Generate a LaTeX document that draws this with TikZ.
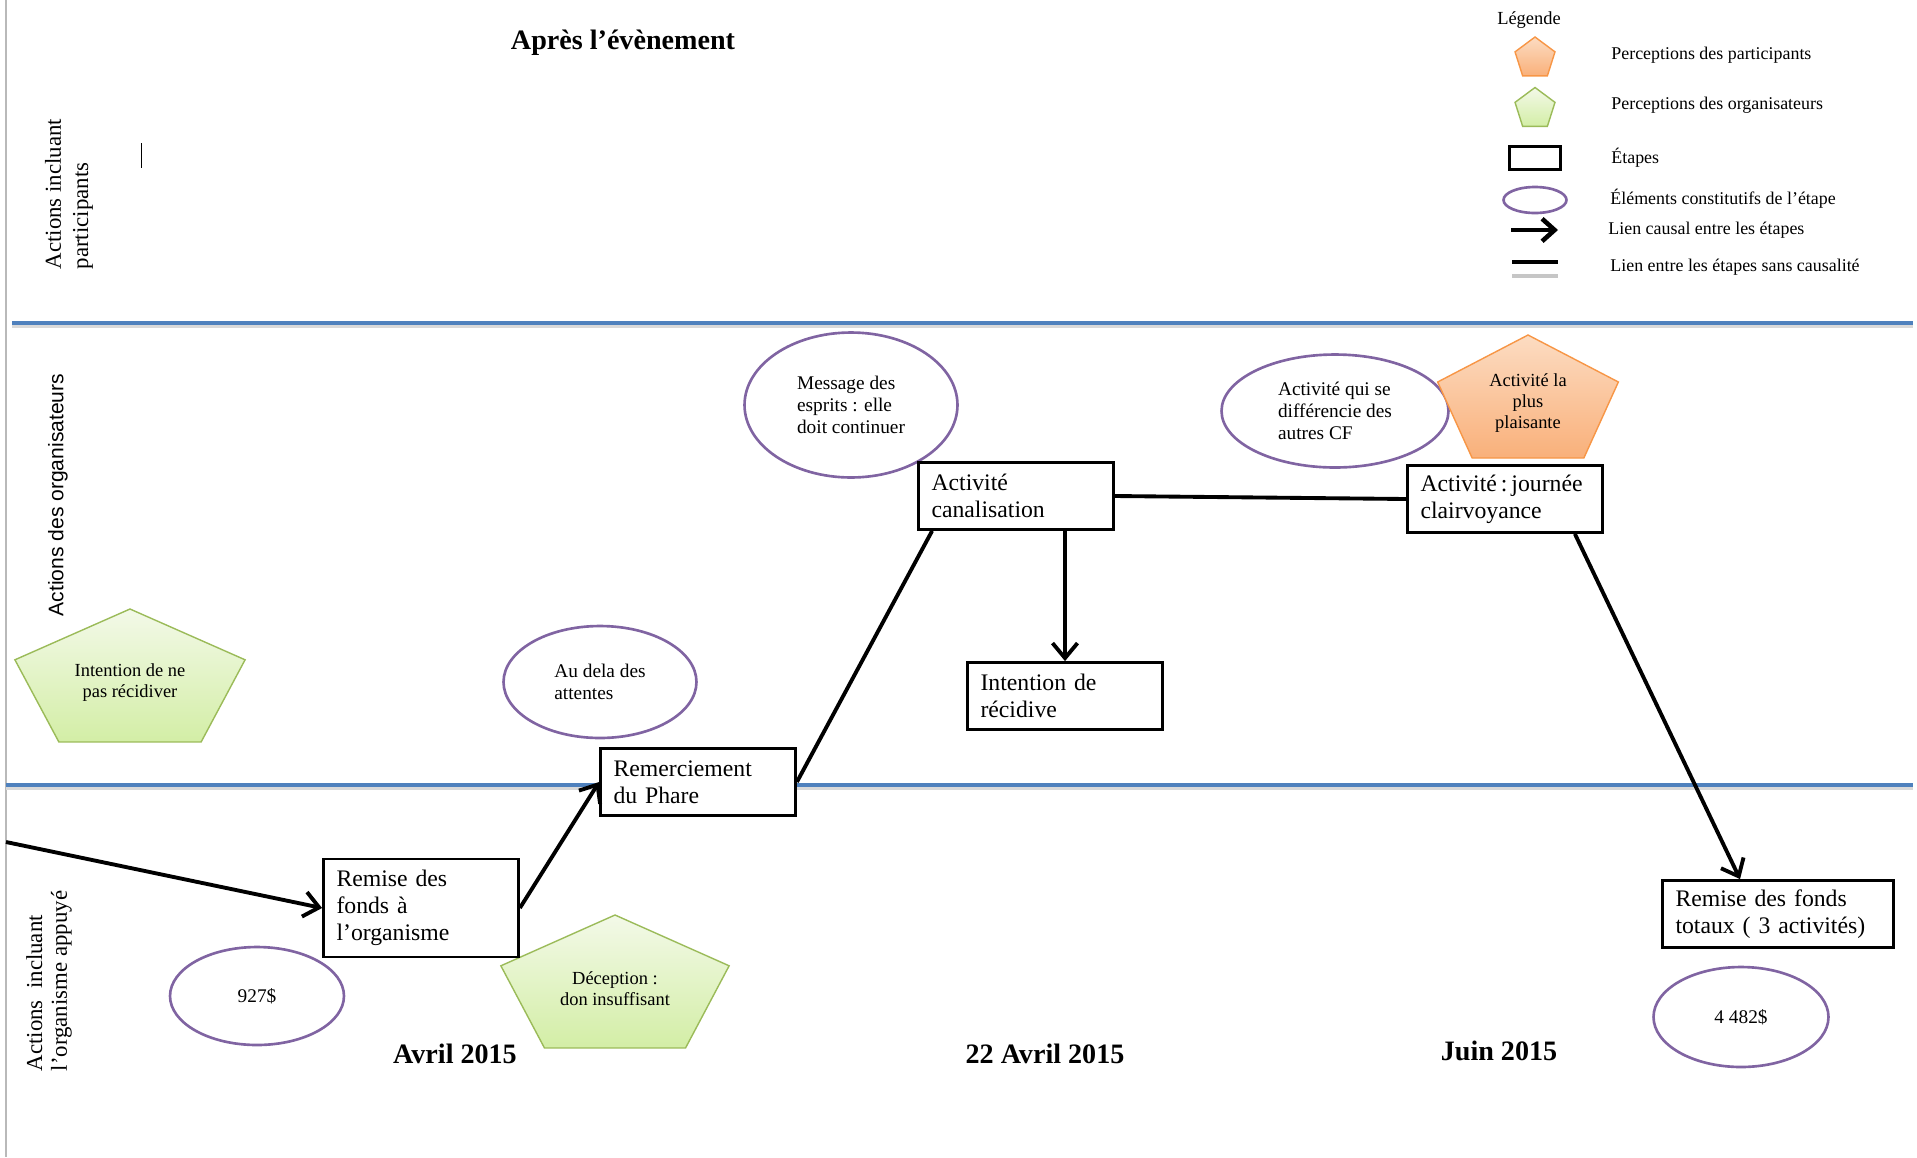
\documentclass[tikz,border=0pt]{standalone}
\usepackage{fontspec}
\setmainfont{Liberation Serif}
\setsansfont{Liberation Sans}
\usetikzlibrary{arrows.meta,shapes.geometric,positioning}

\definecolor{bleuligne}{HTML}{4F81BD}
\definecolor{mauve}{HTML}{8064A2}
\definecolor{vertbord}{HTML}{9BBB59}
\definecolor{verthaut}{HTML}{F3F9E8}
\definecolor{vertbas}{HTML}{D3EEA6}
\definecolor{orangebord}{HTML}{F79646}
\definecolor{orangehaut}{HTML}{FCDCC2}
\definecolor{orangebas}{HTML}{F9B07A}

\tikzset{
  etape/.style={draw, fill=white, line width=1.6pt, align=left, inner xsep=0.26cm,
    text width=3.38cm, minimum height=1.34cm, font=\fontsize{13.5}{15.5}\selectfont},
  element/.style={ellipse, draw=mauve, line width=1.5pt, align=left, inner sep=0pt,
    font=\fontsize{11}{12.5}\selectfont},
  pentatexte/.style={align=center, inner sep=0pt, font=\fontsize{10.5}{12}\selectfont},
  vert/.style={draw=vertbord, line width=0.8pt, top color=verthaut, bottom color=vertbas},
  orange/.style={draw=orangebord, line width=0.8pt, top color=orangehaut, bottom color=orangebas},
  causal/.style={-{Straight Barb[length=0.3cm,width=0.5cm]}, line width=2.2pt},
  lien/.style={line width=2.2pt},
  couloir/.style={draw=bleuligne, line width=1.8pt},
  date/.style={font=\bfseries\fontsize{16}{19}\selectfont},
  legtexte/.style={anchor=west, inner sep=0pt, font=\fontsize{10.2}{12}\selectfont},
  voie/.style={rotate=90, align=left, inner sep=0pt}
}

% pentagon: name, centre, x radius, y radius, style, text
\newcommand{\penta}[6]{%
  \path[#5] #2 +(270:#3 and #4) -- +(342:#3 and #4) -- +(54:#3 and #4)
    -- +(126:#3 and #4) -- +(198:#3 and #4) -- cycle;
  \node[pentatexte] (#1) at #2 {#6};}

\begin{document}
\begin{tikzpicture}[x=0.02cm, y=-0.02cm]
  \useasboundingbox (0,0) rectangle (1917,1157);

  % Lanes
  \coordinate (bordA) at (6,0);
  \coordinate (bordB) at (6,1157);
  \draw[gray!55, line width=0.8pt] (bordA) -- (bordB);
  \coordinate (l1a) at (12,323);
  \coordinate (l1b) at (1913,323);
  \coordinate (l2a) at (6,785);
  \coordinate (l2b) at (1913,785);
  \draw[gray!30, line width=1.8pt] ([yshift=-0.06cm]l1a) -- ([yshift=-0.06cm]l1b);
  \draw[gray!30, line width=1.8pt] ([yshift=-0.06cm]l2a) -- ([yshift=-0.06cm]l2b);
  \draw[couloir] (l1a) -- (l1b);
  \draw[couloir] (l2a) -- (l2b);
  \draw[line width=0.5pt] (141,143) -- (141,168);

  \node[voie, font=\fontsize{13}{15.5}\selectfont] (participants) at (69,194)
    {Actions incluant\\participants};
  \node[voie, font=\sffamily\fontsize{12}{14}\selectfont] (organisateurs) at (58,495)
    {Actions des organisateurs};
  \node[voie, font=\fontsize{13}{14}\selectfont] (organisme) at (49,981)
    {Actions\ \ incluant\\l’organisme appuyé};

  % Title and dates
  \node[font=\bfseries\fontsize{16}{19}\selectfont] (titre) at (623,43) {Après l’évènement};
  \node[date] (avril) at (455,1054) {Avril 2015};
  \node[date] (avril22) at (1045,1054) {22 Avril 2015};
  \node[date] (juin) at (1499,1051) {Juin 2015};

  % Legend
  \node[font=\fontsize{10.5}{12}\selectfont] (legende) at (1529,20) {Légende};
  \penta{legorange}{(1535,58.5)}{21}{21.5}{orange}{}
  \penta{legvert}{(1535,109)}{21}{21.5}{vert}{}
  \node[draw, line width=2pt, minimum width=1.02cm, minimum height=0.46cm] (legetape) at (1535,158) {};
  \node[ellipse, draw=mauve, line width=1.5pt, minimum width=1.26cm, minimum height=0.52cm] (legelement) at (1535,200) {};
  \coordinate (legflecheA) at (1511,230);
  \coordinate (legflecheB) at (1558,230);
  \draw[-{Straight Barb[length=0.25cm,width=0.45cm]}, line width=2.6pt] (legflecheA) -- (legflecheB);
  \coordinate (legtraitA) at (1512,262);
  \coordinate (legtraitB) at (1558,262);
  \draw[line width=2.6pt] (legtraitA) -- (legtraitB);
  \draw[gray!45, line width=2.6pt] ([yshift=-0.28cm]legtraitA) -- ([yshift=-0.28cm]legtraitB);
  \node[legtexte] (legt1) at (1611,55) {Perceptions des participants};
  \node[legtexte] (legt2) at (1611,105) {Perceptions des organisateurs};
  \node[legtexte] (legt3) at (1611,158) {Étapes};
  \node[legtexte] (legt4) at (1610,199) {Éléments constitutifs de l’étape};
  \node[legtexte] (legt5) at (1608,230) {Lien causal entre les étapes};
  \node[legtexte] (legt6) at (1610,267) {Lien entre les étapes sans causalité};

  % Elements
  \node[element, minimum width=4.26cm, minimum height=2.9cm] (esprits) at (851,405)
    {Message des\\esprits : elle\\doit continuer};
  \node[element, minimum width=4.54cm, minimum height=2.26cm] (differ) at (1335,411)
    {Activité qui se\\différencie des\\autres CF};
  \node[element, minimum width=3.86cm, minimum height=2.24cm] (attentes) at (600,682)
    {Au dela des\\attentes};
  \node[element, minimum width=3.48cm, minimum height=1.96cm] (montant1) at (257,996) {927\$};
  \node[element, minimum width=3.5cm, minimum height=2.0cm] (montant2) at (1741,1017) {4 482\$};

  % Perceptions
  \penta{nepas}{(130,682.5)}{121}{73.5}{vert}{Intention de ne\\pas récidiver}
  \penta{deception}{(615,988.5)}{120}{73.5}{vert}{Déception :\\don insuffisant}
  \penta{plaisante}{(1528,403)}{95}{68}{orange}{Activité la\\plus\\plaisante}

  % Steps
  \node[etape] (canal) at (1016,496) {Activité\\canalisation};
  \node[etape] (journee) at (1505,499) {Activité\,:\,journée\\clairvoyance};
  \node[etape] (recid) at (1065,696) {Intention de\\récidive};
  \node[etape] (remerc) at (698,782) {Remerciement\\du Phare};
  \node[etape, minimum height=1.96cm] (remise) at (421,908) {Remise des\\fonds à\\l’organisme};
  \node[etape, text width=4.1cm] (totaux) at (1778,914) {Remise des fonds\\totaux ( 3 activités)};

  % Links
  \coordinate (entree) at (6,842);
  \path[causal]
    (entree) edge (remise.west)
    (remise.east) edge (remerc.west)
    (canal.south -| recid.north) edge (recid.north)
    ([xshift=-0.58cm]journee.south east) edge ([xshift=-0.76cm]totaux.north);
  \path[lien]
    (remerc.east) edge ([xshift=0.3cm]canal.south west)
    (canal.east) edge (journee.west);
\end{tikzpicture}
\end{document}
